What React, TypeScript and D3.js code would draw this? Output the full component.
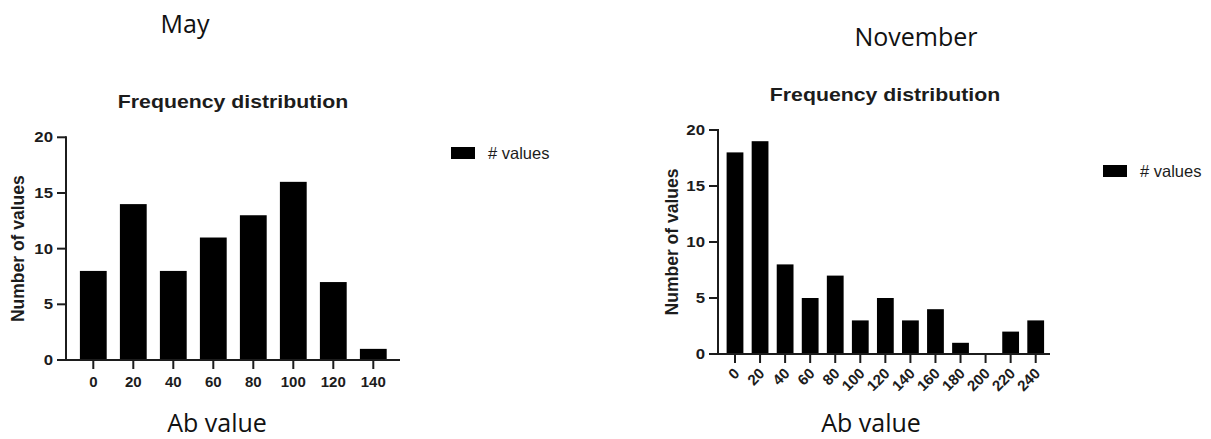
import React, { useEffect, useRef } from "react";
import * as d3 from "d3";

// histogram bins (bin centre of "Ab value") and counts
const mayBins = [0, 20, 40, 60, 80, 100, 120, 140];
const mayCounts = [8, 14, 8, 11, 13, 16, 7, 1];
const novBins = [0, 20, 40, 60, 80, 100, 120, 140, 160, 180, 200, 220, 240];
const novCounts = [18, 19, 8, 5, 7, 3, 5, 3, 4, 1, 0, 2, 3];
const yTicks = [0, 5, 10, 15, 20];

const chartFont = "'Liberation Sans', Arial, sans-serif";
const captionFont = "'Open Sans', sans-serif";
const ink = "#1c1c1c";

// text placed at (x, y) and stretched sideways a little, the source image is wide
function stretchedText(g: any, x: number, y: number, sx: number) {
  return g.append("text")
    .attr("transform", `translate(${x},${y}) scale(${sx},1)`)
    .attr("font-family", chartFont)
    .attr("fill", ink);
}

function drawPanel(g: any, bins: number[], counts: number[], cfg: any) {
  const x = d3.scaleLinear()
    .domain([bins[0], bins[bins.length - 1]])
    .range([cfg.x0, cfg.x1]);
  const y = d3.scaleLinear().domain([0, 20]).range([cfg.yBottom, cfg.yTop]);
  const step = x(bins[1]) - x(bins[0]);
  const bw = step * 0.67;

  // bars
  g.selectAll(".bar")
    .data(bins)
    .enter().append("rect")
    .attr("x", (d: number) => x(d) - bw / 2)
    .attr("y", (d: number, i: number) => y(counts[i]))
    .attr("width", bw)
    .attr("height", (d: number, i: number) => y(0) - y(counts[i]))
    .attr("fill", "#000");

  // y axis
  g.append("line")
    .attr("x1", cfg.axisX).attr("x2", cfg.axisX)
    .attr("y1", y(20) - 1).attr("y2", y(0) + 1)
    .attr("stroke", ink).attr("stroke-width", 2);
  yTicks.forEach((t) => {
    g.append("line")
      .attr("x1", cfg.axisX - 9).attr("x2", cfg.axisX)
      .attr("y1", y(t)).attr("y2", y(t))
      .attr("stroke", ink).attr("stroke-width", 2);
    stretchedText(g, cfg.axisX - 13, y(t), 1.2)
      .attr("dy", "0.36em")
      .attr("text-anchor", "end")
      .attr("font-weight", "bold")
      .attr("font-size", 14)
      .text(t);
  });

  // x axis
  g.append("line")
    .attr("x1", cfg.axisX - 1).attr("x2", cfg.xEnd)
    .attr("y1", y(0)).attr("y2", y(0))
    .attr("stroke", ink).attr("stroke-width", 2);
  bins.forEach((b) => {
    g.append("line")
      .attr("x1", x(b)).attr("x2", x(b))
      .attr("y1", y(0)).attr("y2", y(0) + 9)
      .attr("stroke", ink).attr("stroke-width", 2);
    const lab = g.append("text")
      .attr("font-family", chartFont)
      .attr("font-weight", "bold")
      .attr("font-size", 15)
      .attr("fill", ink)
      .text(b);
    if (cfg.rotate) {
      lab.attr("text-anchor", "end")
        .attr("transform", `translate(${x(b) - 2},${y(0) + 13}) rotate(-45)`)
        .attr("dy", "0.7em");
    } else {
      lab.attr("text-anchor", "middle")
        .attr("x", x(b)).attr("y", y(0) + 27);
    }
  });

  // titles
  stretchedText(g, cfg.titleX, cfg.titleY, 1.12)
    .attr("text-anchor", "middle")
    .attr("font-weight", "bold")
    .attr("font-size", 19)
    .text("Frequency distribution");
  g.append("text")
    .attr("transform", `translate(${cfg.yLabelX},${(y(0) + y(20)) / 2}) rotate(-90)`)
    .attr("text-anchor", "middle")
    .attr("font-family", chartFont)
    .attr("font-weight", "bold")
    .attr("font-size", 17.5)
    .attr("fill", ink)
    .text("Number of values");

  // legend
  g.append("rect")
    .attr("x", cfg.legX).attr("y", cfg.legY)
    .attr("width", 24).attr("height", 12)
    .attr("fill", "#000");
  g.append("text")
    .attr("x", cfg.legX + 37).attr("y", cfg.legY + 6)
    .attr("dy", "0.36em")
    .attr("font-family", chartFont)
    .attr("font-size", 16.5)
    .attr("fill", ink)
    .text("# values");

  // captions
  g.append("text")
    .attr("x", cfg.capX).attr("y", cfg.capY)
    .attr("text-anchor", "middle")
    .attr("font-family", captionFont)
    .attr("font-size", 25)
    .attr("fill", "#111")
    .text(cfg.caption);
  g.append("text")
    .attr("x", cfg.abX).attr("y", 432)
    .attr("text-anchor", "middle")
    .attr("font-family", captionFont)
    .attr("font-size", 25)
    .attr("fill", "#111")
    .text("Ab value");
}

export default function App() {
  const ref = useRef<SVGSVGElement>(null);

  useEffect(() => {
    const svg = d3.select(ref.current);
    svg.selectAll("*").remove();

    drawPanel(svg.append("g"), mayBins, mayCounts, {
      x0: 93.3, x1: 373.3, axisX: 66, xEnd: 400,
      yTop: 137.3, yBottom: 360,
      titleX: 233, titleY: 108, yLabelX: 24,
      legX: 451, legY: 147,
      caption: "May", capX: 185, capY: 33, abX: 217,
      rotate: false,
    });
    drawPanel(svg.append("g"), novBins, novCounts, {
      x0: 735, x1: 1035.7, axisX: 718, xEnd: 1050,
      yTop: 130, yBottom: 354,
      titleX: 885, titleY: 101, yLabelX: 678,
      legX: 1103, legY: 165,
      caption: "November", capX: 916, capY: 46, abX: 871,
      rotate: true,
    });
  }, []);

  return (
    <svg
      ref={ref}
      width={1211}
      height={439}
      style={{ position: "absolute", left: 0, top: 0, background: "#fff" }}
    />
  );
}
